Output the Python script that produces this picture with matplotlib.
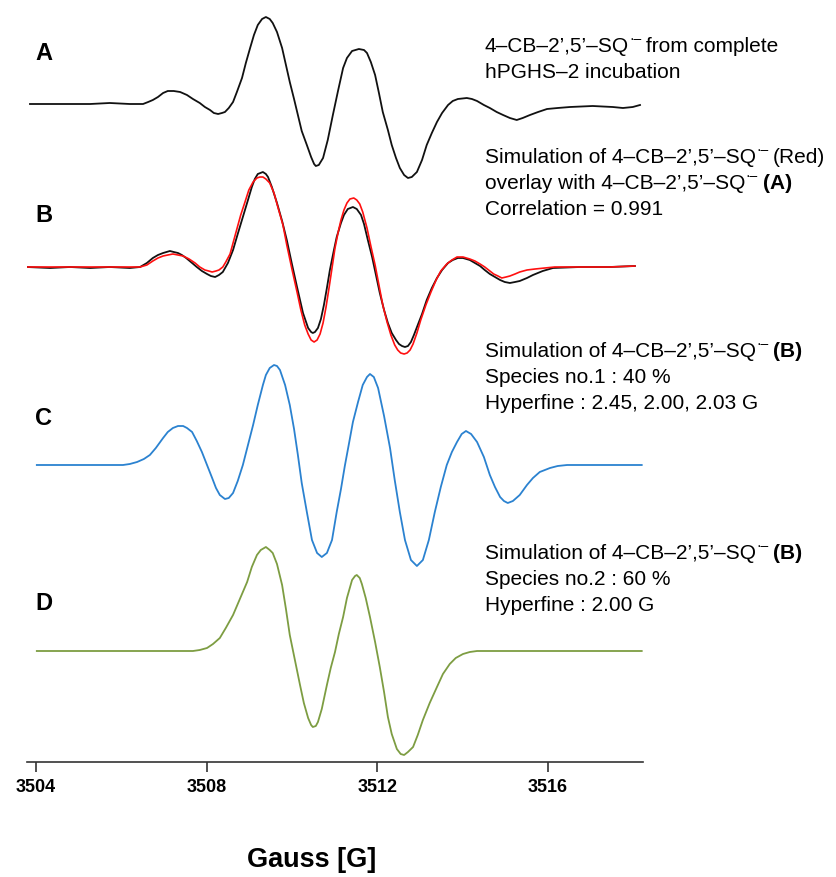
import matplotlib.pyplot as plt

FONT = ["Liberation Sans", "DejaVu Sans"]
plt.rcParams["font.family"] = FONT

# trace A: 4-CB-2',5'-SQ from hPGHS-2 incubation (field in G, signal in a.u.)
field_a = [3503.86, 3504.56, 3505.27, 3505.73, 3506.20, 3506.51, 3506.63, 3506.74,
           3506.86, 3506.98, 3507.09, 3507.23, 3507.38, 3507.54, 3507.68, 3507.84,
           3507.96, 3508.08, 3508.17, 3508.27, 3508.36, 3508.43, 3508.52, 3508.62,
           3508.71, 3508.83, 3508.92, 3509.02, 3509.11, 3509.20, 3509.30, 3509.39,
           3509.48, 3509.55, 3509.65, 3509.77, 3509.86, 3509.95, 3510.05, 3510.14,
           3510.23, 3510.35, 3510.45, 3510.52, 3510.56, 3510.63, 3510.73, 3510.84,
           3510.96, 3511.08, 3511.20, 3511.29, 3511.41, 3511.57, 3511.69, 3511.76,
           3511.85, 3511.95, 3512.04, 3512.13, 3512.25, 3512.34, 3512.44, 3512.53,
           3512.63, 3512.72, 3512.81, 3512.93, 3513.05, 3513.16, 3513.28, 3513.40,
           3513.52, 3513.66, 3513.77, 3513.89, 3514.10, 3514.22, 3514.34, 3514.50,
           3514.64, 3514.80, 3514.95, 3515.11, 3515.27, 3515.41, 3515.58, 3515.77,
           3515.98, 3516.23, 3516.52, 3517.05, 3517.52, 3517.76, 3517.99, 3518.16]
signal_a = [0, 0, 0, 1, 0, 0, 2, 4,
            7, 11, 13, 13, 12, 9, 5, 1,
            -3, -6, -9, -10, -9, -8, -4, 2,
            12, 26, 41, 56, 69, 79, 85, 87,
            85, 81, 72, 56, 39, 22, 5, -11,
            -27, -41, -53, -60, -62, -61, -54, -36,
            -11, 13, 36, 46, 53, 55, 54, 51,
            42, 29, 11, -8, -26, -41, -54, -64,
            -71, -74, -73, -68, -56, -41, -29, -18,
            -9, -1, 3, 5, 6, 5, 3, -1,
            -4, -8, -11, -14, -16, -14, -11, -8,
            -5, -4, -3, -2, -3, -4, -3, -1]

# trace B: experimental (black)
field_b = [3503.79, 3504.33, 3504.80, 3505.27, 3505.73, 3506.20, 3506.44, 3506.60,
           3506.74, 3506.86, 3506.98, 3507.14, 3507.23, 3507.33, 3507.42, 3507.52,
           3507.66, 3507.77, 3507.89, 3508.01, 3508.10, 3508.20, 3508.29, 3508.38,
           3508.50, 3508.62, 3508.73, 3508.85, 3508.97, 3509.06, 3509.13, 3509.20,
           3509.32, 3509.39, 3509.44, 3509.53, 3509.65, 3509.77, 3509.88, 3510.00,
           3510.12, 3510.26, 3510.38, 3510.45, 3510.49, 3510.54, 3510.61, 3510.68,
           3510.75, 3510.82, 3510.89, 3510.98, 3511.05, 3511.15, 3511.22, 3511.31,
           3511.43, 3511.52, 3511.62, 3511.69, 3511.78, 3511.88, 3511.97, 3512.06,
           3512.16, 3512.25, 3512.34, 3512.44, 3512.51, 3512.58, 3512.65, 3512.72,
           3512.79, 3512.86, 3512.95, 3513.05, 3513.16, 3513.28, 3513.40, 3513.52,
           3513.66, 3513.77, 3513.89, 3514.01, 3514.17, 3514.29, 3514.41, 3514.52,
           3514.64, 3514.76, 3514.88, 3514.99, 3515.11, 3515.23, 3515.34, 3515.51,
           3515.65, 3515.88, 3516.12, 3516.75, 3517.45, 3518.04]
signal_b = [0, -1, 0, -1, 0, -1, 0, 4,
            9, 12, 14, 16, 15, 14, 12, 9,
            4, 0, -4, -7, -9, -10, -8, -5,
            4, 17, 33, 50, 67, 80, 88, 93,
            95, 93, 90, 80, 64, 46, 27, 3,
            -20, -46, -61, -65, -66, -65, -61, -52,
            -38, -21, -3, 16, 30, 44, 52, 58,
            60, 58, 52, 43, 27, 10, -8, -26,
            -43, -56, -66, -73, -77, -79, -80, -79,
            -75, -68, -58, -47, -33, -21, -11, -3,
            4, 7, 9, 9, 7, 4, 1, -3,
            -7, -10, -13, -15, -16, -15, -14, -11,
            -8, -4, -1, 0, 0, 1]

# trace B: simulation (red)
field_b_sim = [3503.79, 3504.56, 3505.50, 3506.44, 3506.60, 3506.74, 3506.86, 3506.98,
               3507.09, 3507.21, 3507.33, 3507.45, 3507.59, 3507.73, 3507.84, 3507.96,
               3508.05, 3508.13, 3508.22, 3508.29, 3508.38, 3508.45, 3508.55, 3508.62,
               3508.71, 3508.80, 3508.90, 3508.99, 3509.09, 3509.18, 3509.25, 3509.32,
               3509.39, 3509.48, 3509.58, 3509.67, 3509.79, 3509.88, 3510.00, 3510.12,
               3510.21, 3510.30, 3510.38, 3510.45, 3510.52, 3510.59, 3510.66, 3510.73,
               3510.80, 3510.87, 3510.94, 3511.01, 3511.08, 3511.15, 3511.22, 3511.29,
               3511.36, 3511.45, 3511.52, 3511.59, 3511.66, 3511.76, 3511.85, 3511.95,
               3512.04, 3512.13, 3512.23, 3512.32, 3512.41, 3512.48, 3512.55, 3512.63,
               3512.70, 3512.77, 3512.84, 3512.93, 3513.02, 3513.14, 3513.26, 3513.38,
               3513.49, 3513.63, 3513.75, 3513.87, 3514.01, 3514.17, 3514.29, 3514.41,
               3514.52, 3514.64, 3514.73, 3514.83, 3514.92, 3515.02, 3515.11, 3515.23,
               3515.34, 3515.51, 3515.70, 3515.93, 3516.16, 3516.75, 3517.45, 3518.04]
signal_b_sim = [0, 0, 0, 0, 2, 6, 9, 11,
                12, 13, 12, 11, 8, 4, 0, -3,
                -4, -5, -4, -3, 0, 5, 13, 24,
                38, 52, 65, 77, 85, 89, 90, 90,
                88, 84, 74, 60, 42, 22, -2, -25,
                -43, -58, -67, -73, -75, -73, -67, -56,
                -40, -21, -1, 19, 34, 47, 57, 64,
                68, 69, 67, 63, 55, 39, 21, 2,
                -18, -38, -55, -68, -78, -83, -86, -87,
                -86, -83, -77, -66, -53, -38, -25, -13,
                -4, 3, 7, 10, 10, 8, 6, 3,
                0, -4, -7, -9, -11, -10, -9, -7,
                -5, -3, -2, -1, 0, 0, 0, 1]

# trace C: species no.1 simulation
field_c = [3504.02, 3505.03, 3506.04, 3506.20, 3506.37, 3506.53, 3506.67, 3506.81,
           3506.98, 3507.09, 3507.21, 3507.33, 3507.45, 3507.54, 3507.66, 3507.77,
           3507.89, 3508.01, 3508.13, 3508.22, 3508.31, 3508.43, 3508.52, 3508.62,
           3508.73, 3508.85, 3508.97, 3509.09, 3509.20, 3509.32, 3509.39, 3509.48,
           3509.58, 3509.65, 3509.72, 3509.84, 3509.95, 3510.05, 3510.14, 3510.23,
           3510.35, 3510.47, 3510.59, 3510.70, 3510.82, 3510.94, 3511.05, 3511.15,
           3511.24, 3511.34, 3511.43, 3511.55, 3511.66, 3511.76, 3511.83, 3511.92,
           3512.02, 3512.16, 3512.30, 3512.41, 3512.53, 3512.65, 3512.79, 3512.93,
           3513.07, 3513.21, 3513.35, 3513.49, 3513.63, 3513.75, 3513.87, 3513.98,
           3514.08, 3514.20, 3514.34, 3514.50, 3514.64, 3514.76, 3514.88, 3514.97,
           3515.06, 3515.18, 3515.34, 3515.51, 3515.65, 3515.81, 3516.05, 3516.23,
           3516.45, 3517.22, 3518.20]
signal_c = [0, 0, 0, 1, 3, 6, 10, 17,
            27, 33, 37, 39, 39, 37, 33, 24,
            13, 0, -13, -23, -30, -34, -33, -28,
            -16, 0, 20, 40, 60, 80, 90, 97,
            100, 99, 95, 80, 60, 36, 10, -18,
            -47, -75, -88, -92, -88, -75, -47, -24,
            -1, 22, 43, 63, 80, 88, 91, 88,
            77, 49, 17, -15, -47, -75, -95, -101,
            -95, -75, -47, -22, 0, 13, 23, 31,
            34, 31, 23, 8, -10, -22, -32, -36,
            -38, -36, -30, -20, -13, -7, -3, -1,
            0, 0, 0]

# trace D: species no.2 simulation
field_d = [3504.02, 3505.50, 3506.67, 3507.68, 3507.84, 3508.01, 3508.15, 3508.31,
           3508.45, 3508.62, 3508.78, 3508.95, 3509.06, 3509.18, 3509.27, 3509.39,
           3509.48, 3509.55, 3509.65, 3509.77, 3509.86, 3509.95, 3510.07, 3510.19,
           3510.28, 3510.38, 3510.45, 3510.49, 3510.56, 3510.61, 3510.70, 3510.82,
           3510.91, 3511.01, 3511.10, 3511.20, 3511.29, 3511.41, 3511.48, 3511.52,
           3511.59, 3511.64, 3511.73, 3511.83, 3511.95, 3512.06, 3512.16, 3512.25,
           3512.34, 3512.46, 3512.55, 3512.63, 3512.72, 3512.84, 3512.95, 3513.07,
           3513.23, 3513.40, 3513.54, 3513.70, 3513.84, 3514.01, 3514.17, 3514.34,
           3515.81, 3518.20]
signal_d = [0, 0, 0, 0, 1, 3, 7, 13,
            23, 36, 52, 69, 84, 96, 101, 104,
            101, 98, 87, 66, 42, 16, -9, -34,
            -52, -67, -74, -76, -75, -71, -58, -34,
            -17, -1, 17, 34, 53, 71, 75, 76,
            73, 67, 53, 34, 9, -16, -41, -66,
            -83, -98, -103, -104, -101, -96, -84, -69,
            -52, -36, -23, -13, -7, -3, -1, 0,
            0, 0]

tick_values = [3504, 3508, 3512, 3516]
trace_labels = ["A", "B", "C", "D"]

SQ = "4\u2013CB\u20132\u2019,5\u2019\u2013SQ"
RAD = "\u00b7\u2013"

fig = plt.figure(figsize=(8.36, 8.77), dpi=100)
ax = fig.add_axes([27 / 836, 1 - 762 / 877, 616 / 836, 762 / 877])

# vertical stacking of the traces
off_a, off_b, off_c, off_d = 658, 495, 297, 111

ax.plot(field_a, [s + off_a for s in signal_a], color="#111111", lw=1.3)
ax.plot(field_b, [s + off_b for s in signal_b], color="#111111", lw=1.3)
ax.plot(field_b_sim, [s + off_b for s in signal_b_sim], color="#ff1010", lw=1.2)
ax.plot(field_c, [s + off_c for s in signal_c], color="#2b82d0", lw=1.3)
ax.plot(field_d, [s + off_d for s in signal_d], color="#7d9d42", lw=1.3)

ax.set_xlim(3503.79, 3518.23)
ax.set_ylim(0, 762)
ax.set_yticks([])
for side in ["left", "right", "top"]:
    ax.spines[side].set_visible(False)
ax.spines["bottom"].set_color("#333333")
ax.spines["bottom"].set_linewidth(1.2)
ax.set_xticks(tick_values)
ax.set_xticklabels([str(t) for t in tick_values], fontsize=13, fontweight="bold")
ax.tick_params(axis="x", direction="out", length=7, width=1.2, color="#333333", pad=5)

fig.text(312 / 836, 1 - 860 / 877, "Gauss [G]", fontsize=19.5, fontweight="bold",
         ha="center", va="center")

for lab, ypx in zip(trace_labels, [53, 216, 418, 603]):
    fig.text(44 / 836, 1 - ypx / 877, lab, fontsize=17, fontweight="bold",
             ha="center", va="center")

renderer = fig.canvas.get_renderer()


def note(ypx, parts):
    # parts: (text, bold, superscript, gap after in px)
    x = 485
    base = ypx + 7
    for txt, bold, sup, gap in parts:
        size = 10 if sup else 15
        yb = base - 9 if sup else base
        t = fig.text(x / 836, 1 - yb / 877, txt, fontsize=size,
                     fontweight="bold" if bold else "normal",
                     ha="left", va="baseline", family=FONT)
        bb = t.get_window_extent(renderer)
        x = bb.x1 + gap


note(45, [(SQ, 0, 0, 0), (RAD, 0, 1, 5), ("from complete", 0, 0, 0)])
note(71, [("hPGHS\u20132 incubation", 0, 0, 0)])
note(156, [("Simulation of " + SQ, 0, 0, 0), (RAD, 0, 1, 5), ("(Red)", 0, 0, 0)])
note(182, [("overlay with " + SQ, 0, 0, 0), (RAD, 0, 1, 5), ("(A)", 1, 0, 0)])
note(208, [("Correlation = 0.991", 0, 0, 0)])
note(350, [("Simulation of " + SQ, 0, 0, 0), (RAD, 0, 1, 5), ("(B)", 1, 0, 0)])
note(376, [("Species no.1 : 40 %", 0, 0, 0)])
note(402, [("Hyperfine : 2.45, 2.00, 2.03 G", 0, 0, 0)])
note(552, [("Simulation of " + SQ, 0, 0, 0), (RAD, 0, 1, 5), ("(B)", 1, 0, 0)])
note(578, [("Species no.2 : 60 %", 0, 0, 0)])
note(604, [("Hyperfine : 2.00 G", 0, 0, 0)])

fig.savefig("out.png", dpi=100)
